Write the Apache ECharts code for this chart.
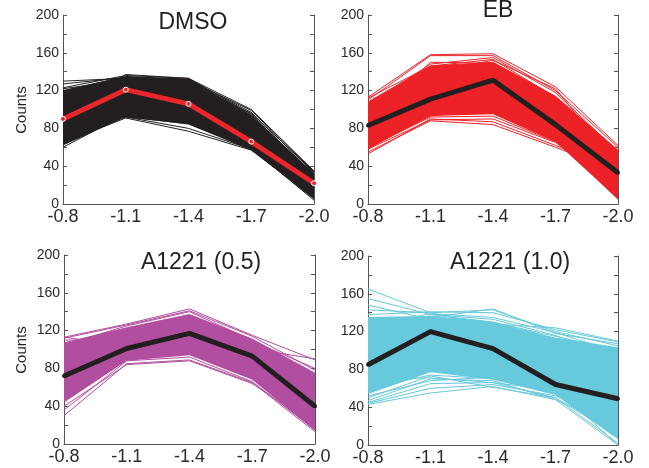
<!DOCTYPE html>
<html>
<head>
<meta charset="utf-8">
<script src="https://cdn.jsdelivr.net/npm/echarts@6/dist/echarts.min.js"></script>
<style>
  html, body { margin: 0; padding: 0; background: #fff; }
  #chart { width: 649px; height: 468px; }
</style>
</head>
<body>
<div id="chart"></div>
<script>
// Potential steps (x) shared by all four panels
const xLabels = ['-0.8', '-1.1', '-1.4', '-1.7', '-2.0'];

// DMSO: mean trace, core of the bundle, and individual traces
const dmsoMean = [90, 121, 106, 66, 22];
const dmsoLow  = [62, 92, 84, 57, 5];
const dmsoHigh = [120, 135, 132, 94, 32];
const dmsoTraces = [
  [130, 133, 131, 99, 34],
  [127, 134, 132, 97, 33],
  [123, 136, 133, 95, 30],
  [122, 131, 130, 92, 28],
  [65, 91, 77, 57, 8],
  [70, 92, 80, 58, 10],
  [60, 95, 86, 58, 6],
  [110, 92, 85, 60, 12],
  [100, 137, 133, 100, 35],
  [80, 125, 128, 96, 34],
  [117, 100, 88, 59, 4]
];

// EB
const ebMean = [83, 111, 131, 84, 33];
const ebLow  = [58, 93, 95, 66, 5];
const ebHigh = [108, 146, 150, 114, 57];
const ebTraces = [
  [113, 158, 159, 124, 62],
  [110, 157, 157, 120, 60],
  [105, 148, 155, 118, 55],
  [112, 146, 153, 113, 48],
  [55, 88, 84, 60, 35],
  [53, 90, 87, 62, 38],
  [60, 92, 93, 66, 30],
  [65, 93, 100, 70, 5],
  [58, 89, 90, 65, 20],
  [100, 140, 152, 122, 40],
  [70, 96, 98, 68, 10],
  [90, 150, 149, 110, 50],
  [62, 120, 118, 80, 8]
];

// A1221 (0.5)
const a05Mean = [72, 101, 117, 93, 40];
const a05Low  = [44, 88, 94, 68, 14];
const a05High = [107, 123, 137, 111, 75];
const a05Traces = [
  [30, 85, 89, 65, 13],
  [36, 88, 92, 66, 15],
  [113, 127, 143, 115, 89],
  [112, 126, 141, 114, 78],
  [110, 110, 134, 106, 73],
  [105, 125, 140, 110, 72],
  [40, 84, 88, 64, 20],
  [113, 104, 130, 103, 70],
  [95, 118, 128, 101, 90],
  [48, 95, 100, 72, 18],
  [100, 122, 136, 109, 80]
];

// A1221 (1.0)
const a10Mean = [85, 120, 102, 64, 49];
const a10Low  = [54, 77, 69, 53, 6];
const a10High = [135, 136, 130, 113, 103];
const a10Traces = [
  [165, 140, 125, 110, 85],
  [155, 138, 130, 115, 100],
  [148, 133, 128, 108, 95],
  [143, 140, 143, 120, 105],
  [138, 141, 140, 122, 109],
  [130, 135, 144, 118, 107],
  [43, 55, 62, 48, 20],
  [45, 65, 66, 50, 2],
  [47, 70, 68, 48, 0],
  [50, 73, 61, 50, 10],
  [44, 60, 64, 52, 30],
  [60, 74, 70, 55, 25],
  [120, 132, 128, 124, 110],
  [100, 125, 120, 105, 95],
  [52, 68, 72, 60, 0],
  [125, 139, 135, 119, 98],
  [70, 71, 66, 58, 40],
  [90, 138, 133, 116, 92]
];

const panels = [
  { title: 'DMSO', color: '#231f20', meanColor: '#e8262b', marker: true,
    mean: dmsoMean, low: dmsoLow, high: dmsoHigh, traces: dmsoTraces,
    grid: { left: 63, top: 15, width: 251, height: 189 }, titlePos: [193, 23], ylabel: true },
  { title: 'EB', color: '#ec2227', meanColor: '#231f20', marker: false,
    mean: ebMean, low: ebLow, high: ebHigh, traces: ebTraces,
    grid: { left: 368, top: 15, width: 250, height: 189 }, titlePos: [498, 11], ylabel: false },
  { title: 'A1221 (0.5)', color: '#b24ea0', meanColor: '#231f20', marker: false,
    mean: a05Mean, low: a05Low, high: a05High, traces: a05Traces,
    grid: { left: 64, top: 255, width: 251, height: 189 }, titlePos: [201, 263], ylabel: true },
  { title: 'A1221 (1.0)', color: '#66c9dc', meanColor: '#231f20', marker: false,
    mean: a10Mean, low: a10Low, high: a10High, traces: a10Traces,
    grid: { left: 368, top: 256, width: 250, height: 189 }, titlePos: [510, 263], ylabel: false }
];

const FONT = 'Liberation Sans, Arial, sans-serif';
const axisColor = '#555';

const grids = [], xAxes = [], yAxes = [], series = [], graphics = [];

panels.forEach((p, i) => {
  grids.push(p.grid);
  xAxes.push({
    type: 'category', gridIndex: i, data: xLabels, boundaryGap: false,
    axisLine: { lineStyle: { color: axisColor, width: 1 } },
    axisTick: { show: false },
    axisLabel: { color: '#2a2a2a', fontSize: 18, fontFamily: FONT, margin: 4 },
    splitLine: { show: false }
  });
  const yBase = {
    type: 'value', gridIndex: i, min: 0, max: 200, interval: 40,
    axisLine: { show: true, lineStyle: { color: axisColor, width: 1 } },
    axisTick: { show: true, inside: true, length: 4, lineStyle: { color: axisColor } },
    minorTick: { show: true, splitNumber: 2, length: 4, lineStyle: { color: axisColor } },
    splitLine: { show: false }
  };
  yAxes.push(Object.assign({}, yBase, {
    position: 'left',
    axisLabel: { color: '#2a2a2a', fontSize: 14, fontFamily: FONT, margin: 4 }
  }));
  yAxes.push(Object.assign({}, yBase, {
    position: 'right',
    axisLabel: { show: false }
  }));
  const yIdx = i * 2;

  // core of the bundle: stacked band between low and high
  series.push({
    type: 'line', xAxisIndex: i, yAxisIndex: yIdx, stack: 'band' + i,
    data: p.low, symbol: 'none', silent: true,
    lineStyle: { width: 0, opacity: 0 }
  });
  series.push({
    type: 'line', xAxisIndex: i, yAxisIndex: yIdx, stack: 'band' + i,
    data: p.high.map((v, k) => v - p.low[k]), symbol: 'none', silent: true,
    lineStyle: { width: 1, color: p.color },
    areaStyle: { color: p.color, opacity: 1 }
  });
  // individual traces
  p.traces.forEach(tr => {
    series.push({
      type: 'line', xAxisIndex: i, yAxisIndex: yIdx, data: tr,
      symbol: 'none', silent: true,
      lineStyle: { width: 1, color: p.color }
    });
  });
  // mean trace
  series.push({
    type: 'line', xAxisIndex: i, yAxisIndex: yIdx, data: p.mean,
    symbol: 'circle', symbolSize: p.marker ? 5 : 4, showSymbol: true, z: 5,
    itemStyle: p.marker
      ? { color: p.meanColor, borderColor: '#fff', borderWidth: 1 }
      : { color: p.meanColor },
    lineStyle: { width: 5, color: p.meanColor }
  });

  graphics.push({
    type: 'text', x: p.titlePos[0], y: p.titlePos[1],
    style: { text: p.title, fill: '#231f20', font: '23px ' + FONT, textAlign: 'center', textVerticalAlign: 'middle' }
  });
  if (p.ylabel) {
    graphics.push({
      type: 'text', x: 22, y: p.grid.top + 95, rotation: Math.PI / 2,
      style: { text: 'Counts', fill: '#231f20', font: '15px ' + FONT, textAlign: 'center', textVerticalAlign: 'middle' }
    });
  }
});

const chart = echarts.init(document.getElementById('chart'), null, { renderer: 'canvas' });
chart.setOption({
  animation: false,
  backgroundColor: '#fff',
  grid: grids,
  xAxis: xAxes,
  yAxis: yAxes,
  series: series,
  graphic: graphics
});
</script>
</body>
</html>
